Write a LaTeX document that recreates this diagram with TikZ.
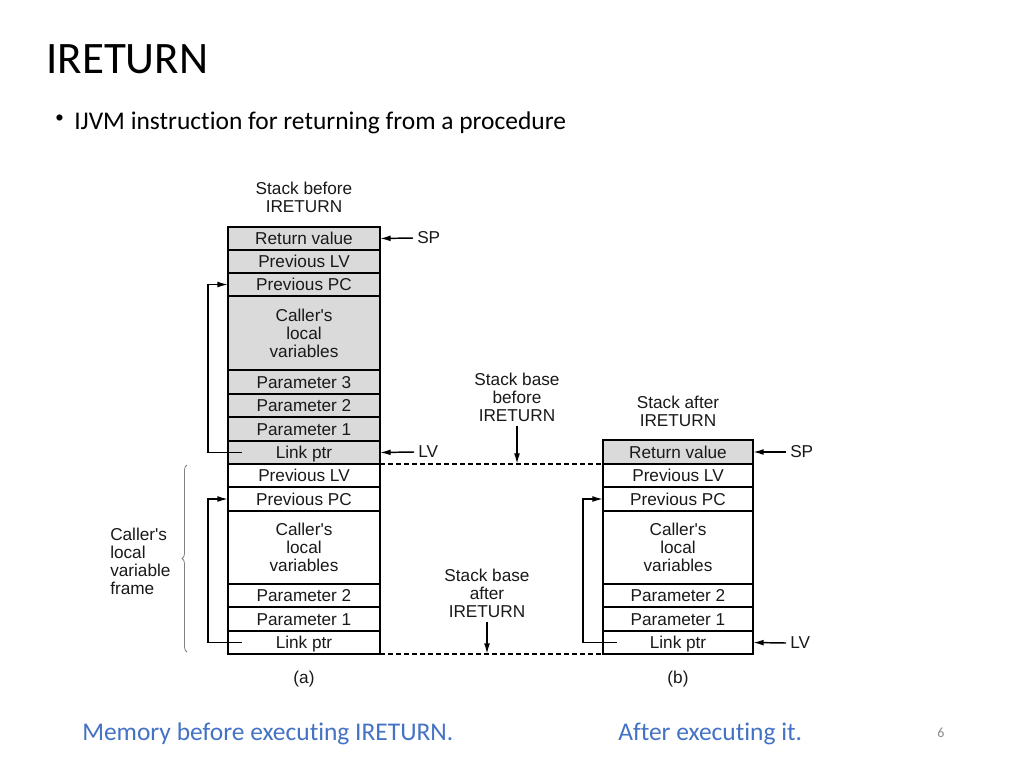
\documentclass[tikz,border=0pt]{standalone}
\usepackage{fontspec}
\setmainfont{Liberation Sans}
\newfontfamily\slidefont[RawFeature=-liga]{Carlito}
\usetikzlibrary{arrows.meta,decorations.pathreplacing,calc}
\definecolor{cellgray}{RGB}{218,218,218}
\definecolor{capblue}{RGB}{68,114,196}
\definecolor{ink}{RGB}{25,25,25}
\definecolor{pagenum}{RGB}{140,140,140}
\newcommand\ap{\textquotesingle}
\begin{document}
\begin{tikzpicture}[x=0.75pt,y=-0.75pt,
  cell/.style={draw=black, line width=1.3pt, inner sep=0pt, outer sep=0pt,
    font=\fontsize{12.9}{13.5}\selectfont, text=ink, align=center},
  cella/.style={cell, minimum width=114pt},
  cellb/.style={cell, minimum width=112.5pt},
  sm/.style={minimum height=17.25pt, text height=9.2pt, text depth=0pt},
  smx/.style={minimum height=18pt, text height=9.2pt, text depth=0pt},
  big/.style={minimum height=55pt},
  shaded/.style={fill=cellgray},
  lab/.style={inner sep=3pt, font=\fontsize{12.9}{13.5}\selectfont, text=ink, align=center},
  conn/.style={line width=1.1pt, -{Latex[length=8pt,width=4.4pt]}},
  base/.style={line width=1.1pt, dash pattern=on 3.6pt off 2.4pt},
  slide/.style={inner sep=0pt, anchor=base west},
]
\useasboundingbox (0,0) rectangle (1024,768);
\fill[white] (0,0) rectangle (1024,768);

% slide texts
\node[slide, font=\slidefont\fontsize{33.75}{40}\selectfont, text=black] (title) at (46,73) {IRETURN};
\node[inner sep=0pt, font=\fontsize{17}{20}\selectfont, text=black] (bul) at (59.5,120) {•};
\node[slide, font=\slidefont\fontsize{19.1}{23}\selectfont, text=black] (bullet) at (74,129) {IJVM instruction for returning from a procedure};
\node[slide, font=\slidefont\fontsize{19.1}{23}\selectfont, text=capblue] (capa) at (82,740) {Memory before executing IRETURN.};
\node[slide, font=\slidefont\fontsize{19.1}{23}\selectfont, text=capblue] (capb) at (618,740) {After executing it.};
\node[slide, font=\slidefont\fontsize{10.5}{12}\selectfont, text=pagenum] (pnum) at (937,737) {6};

% stack (a)
\node[cella, sm, shaded]  (ra1)  at (304,238.5) {Return value};
\node[cella, sm, shaded]  (ra2)  at (304,261.5) {Previous LV};
\node[cella, sm, shaded]  (ra3)  at (304,284.5) {Previous PC};
\node[cella, big, shaded] (ra4)  at (304,333)   {Caller\ap s\\local\\variables};
\node[cella, smx, shaded] (ra5)  at (304,382)   {Parameter 3};
\node[cella, sm, shaded]  (ra6)  at (304,405.5) {Parameter 2};
\node[cella, smx, shaded] (ra7)  at (304,429)   {Parameter 1};
\node[cella, sm, shaded]  (ra8)  at (304,452.5) {Link ptr};
\node[cella, sm]          (ra9)  at (304,475.5) {Previous LV};
\node[cella, smx]         (ra10) at (304,499)   {Previous PC};
\node[cella, big]         (ra11) at (304,547.5) {Caller\ap s\\local\\variables};
\node[cella, sm]          (ra12) at (304,595.5) {Parameter 2};
\node[cella, smx]         (ra13) at (304,619)   {Parameter 1};
\node[cella, sm]          (ra14) at (304,642.5) {Link ptr};

% stack (b)
\node[cellb, smx, shaded] (rb1) at (678,452)   {Return value};
\node[cellb, sm]          (rb2) at (678,475.5) {Previous LV};
\node[cellb, smx]         (rb3) at (678,499)   {Previous PC};
\node[cellb, big]         (rb4) at (678,547.5) {Caller\ap s\\local\\variables};
\node[cellb, sm]          (rb5) at (678,595.5) {Parameter 2};
\node[cellb, smx]         (rb6) at (678,619)   {Parameter 1};
\node[cellb, sm]          (rb7) at (678,642.5) {Link ptr};

% headings and labels
\node[lab] (heada) at (304,197) {Stack before\\IRETURN};
\node[lab] (headb) at (678,411) {Stack after\\IRETURN};
\node[lab] (sbb) at (517,397) {Stack base\\before\\IRETURN};
\node[lab] (sba) at (487,593) {Stack base\\after\\IRETURN};
\node[lab, anchor=west, align=left] (frame) at (106,561) {Caller\ap s\\local\\variable\\frame};
\node[lab] (laba) at (304,679) {(a)};
\node[lab] (labb) at (678,679) {(b)};

\node[lab, anchor=west] (spa) at (413,238) {SP};
\node[lab, anchor=west] (lva) at (414,452) {LV};
\node[lab, anchor=west] (spb) at (786,452) {SP};
\node[lab, anchor=west] (lvb) at (786,643) {LV};

\coordinate (sbbend) at (517,464);
\coordinate (sbaend) at (487,654);

% pointer arrows
\draw[conn] (spa.west) -- (ra1.east);
\draw[conn] (lva.west) -- (ra8.east);
\draw[conn] (spb.west) -- (rb1.east);
\draw[conn] (lvb.west) -- (rb7.east);

% link loops
\draw[conn] ([xshift=10.5pt]ra8.west) -| ([xshift=-15pt]ra3.west) -- (ra3.west);
\draw[conn] ([xshift=10.5pt]ra14.west) -| ([xshift=-15pt]ra10.west) -- (ra10.west);
\draw[conn] ([xshift=10.5pt]rb7.west) -| ([xshift=-15pt]rb3.west) -- (rb3.west);

% stack base lines
\draw[base] (ra8.south east) -- (rb1.south west);
\draw[base] (ra14.south east) -- (rb7.south west);
\draw[conn] (sbb.south) -- (sbbend);
\draw[conn] (sba.south) -- (sbaend);

% brace
\draw[decorate, decoration={brace, amplitude=3.75pt}, draw=gray, line width=0.6pt] (187,652) -- (187,465);
\end{tikzpicture}
\end{document}
